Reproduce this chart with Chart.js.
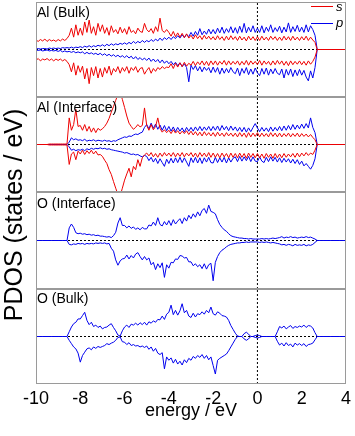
<!DOCTYPE html>
<html><head><meta charset="utf-8">
<script src="https://cdn.jsdelivr.net/npm/chart.js@4.4.1/dist/chart.umd.min.js"></script>
<style>
html,body{margin:0;padding:0;background:#fff;}
#wrap{position:relative;width:355px;height:436px;overflow:hidden;font-family:"Liberation Sans",Arial,sans-serif;color:#000;}
canvas{position:absolute;left:0;}
.lbl{position:absolute;left:37px;font-size:14px;line-height:14px;white-space:nowrap;}
#ytitle{position:absolute;left:13px;top:215px;transform:translate(-50%,-50%) rotate(-90deg);font-size:25px;line-height:25px;white-space:nowrap;}
.legline{position:absolute;left:311px;width:22px;height:0;}
.legtxt{position:absolute;left:336px;font-size:13px;line-height:13px;font-style:italic;}
</style></head><body>
<div id="wrap">
<canvas id="c0"></canvas><canvas id="c1"></canvas><canvas id="c2"></canvas><canvas id="c3"></canvas>
<div class="lbl" id="l0" style="top:5px"></div>
<div class="lbl" id="l1" style="top:100px"></div>
<div class="lbl" id="l2" style="top:196px"></div>
<div class="lbl" id="l3" style="top:291px"></div>
<div id="ytitle"></div>
<div class="legline" style="top:6px;border-top:1px solid #ee0000"></div><div class="legtxt" id="lg0" style="top:0px"></div>
<div class="legline" style="top:23px;border-top:1px solid #0000ee"></div><div class="legtxt" id="lg1" style="top:16px"></div>
</div>
<script>
const energy = [
-10,-9.9,-9.8,-9.7,-9.6,-9.5,-9.4,-9.3,-9.2,-9.1,
-9,-8.9,-8.8,-8.7,-8.6,-8.5,-8.4,-8.3,-8.2,-8.1,
-8,-7.9,-7.8,-7.7,-7.6,-7.5,-7.4,-7.3,-7.2,-7.1,
-7,-6.9,-6.8,-6.7,-6.6,-6.5,-6.4,-6.3,-6.2,-6.1,
-6,-5.9,-5.8,-5.7,-5.6,-5.5,-5.4,-5.3,-5.2,-5.1,
-5,-4.9,-4.8,-4.7,-4.6,-4.5,-4.4,-4.3,-4.2,-4.1,
-4,-3.9,-3.8,-3.7,-3.6,-3.5,-3.4,-3.3,-3.2,-3.1,
-3,-2.9,-2.8,-2.7,-2.6,-2.5,-2.4,-2.3,-2.2,-2.1,
-2,-1.9,-1.8,-1.7,-1.6,-1.5,-1.4,-1.3,-1.2,-1.1,
-1,-0.9,-0.8,-0.7,-0.6,-0.5,-0.4,-0.3,-0.2,-0.1,
0,0.1,0.2,0.3,0.4,0.5,0.6,0.7,0.8,0.9,
1,1.1,1.2,1.3,1.4,1.5,1.6,1.7,1.8,1.9,
2,2.1,2.2,2.3,2.4,2.5,2.6,2.7,2.8,2.9,
3,3.1,3.2,3.3,3.4,3.5,3.6,3.7,3.8,3.9,
4];

// Al (Bulk)
const alBulkSUp = [
0.20,0.17,0.21,0.18,0.22,0.17,0.21,0.18,0.20,0.17,
0.21,0.18,0.22,0.19,0.23,0.30,0.45,0.26,0.52,0.30,
0.45,0.30,0.58,0.36,0.62,0.34,0.48,0.30,0.55,0.38,
0.52,0.34,0.46,0.30,0.50,0.36,0.42,0.33,0.47,0.35,
0.44,0.32,0.48,0.36,0.40,0.33,0.45,0.38,0.36,0.55,
0.42,0.37,0.44,0.34,0.48,0.38,0.66,0.40,0.36,0.42,
0.36,0.28,0.38,0.27,0.35,0.26,0.34,0.25,0.33,0.24,
0.30,0.22,0.31,0.23,0.29,0.21,0.30,0.22,0.28,0.21,
0.27,0.20,0.29,0.21,0.27,0.19,0.28,0.20,0.29,0.21,
0.27,0.19,0.28,0.20,0.26,0.18,0.28,0.20,0.27,0.19,
0.27,0.19,0.28,0.20,0.26,0.19,0.28,0.21,0.27,0.19,
0.26,0.19,0.28,0.20,0.27,0.19,0.28,0.20,0.26,0.19,
0.27,0.20,0.28,0.19,0.26,0.20,0.15,0,0,0,
0,0,0,0,0,0,0,0,0,0,
0];
const alBulkSDown = [
-0.23,-0.19,-0.24,-0.20,-0.22,-0.19,-0.23,-0.20,-0.24,-0.20,
-0.23,-0.20,-0.24,-0.21,-0.25,-0.32,-0.47,-0.28,-0.54,-0.34,
-0.48,-0.35,-0.62,-0.40,-0.72,-0.38,-0.55,-0.36,-0.60,-0.40,
-0.58,-0.38,-0.50,-0.35,-0.54,-0.40,-0.47,-0.36,-0.50,-0.38,
-0.46,-0.36,-0.50,-0.38,-0.44,-0.36,-0.48,-0.40,-0.38,-0.52,
-0.44,-0.38,-0.50,-0.40,-0.46,-0.38,-0.42,-0.36,-0.40,-0.37,
-0.38,-0.30,-0.40,-0.29,-0.37,-0.28,-0.36,-0.27,-0.35,-0.29,
-0.33,-0.25,-0.34,-0.26,-0.32,-0.24,-0.33,-0.25,-0.34,-0.24,
-0.32,-0.24,-0.33,-0.25,-0.31,-0.23,-0.33,-0.24,-0.32,-0.25,
-0.31,-0.24,-0.33,-0.25,-0.32,-0.23,-0.33,-0.24,-0.31,-0.25,
-0.32,-0.23,-0.33,-0.24,-0.31,-0.25,-0.33,-0.24,-0.32,-0.23,
-0.31,-0.24,-0.33,-0.25,-0.34,-0.24,-0.32,-0.25,-0.31,-0.24,
-0.32,-0.25,-0.33,-0.24,-0.31,-0.25,-0.16,0,0,0,
0,0,0,0,0,0,0,0,0,0,
0];
const alBulkPUp = [
0.01,0.02,0.01,0.02,0.02,0.01,0.03,0.02,0.03,0.02,
0.03,0.02,0.04,0.03,0.04,0.03,0.05,0.03,0.05,0.04,
0.06,0.04,0.07,0.05,0.08,0.05,0.08,0.06,0.09,0.07,
0.10,0.07,0.11,0.08,0.12,0.09,0.12,0.10,0.13,0.11,
0.14,0.11,0.15,0.12,0.17,0.13,0.17,0.14,0.19,0.15,
0.19,0.16,0.21,0.17,0.22,0.18,0.24,0.19,0.25,0.21,
0.26,0.21,0.27,0.23,0.29,0.24,0.31,0.25,0.32,0.27,
0.36,0.28,0.38,0.30,0.44,0.31,0.39,0.32,0.43,0.33,
0.42,0.33,0.45,0.35,0.47,0.34,0.44,0.36,0.48,0.35,
0.46,0.34,0.49,0.36,0.55,0.35,0.47,0.37,0.50,0.36,
0.45,0.36,0.50,0.35,0.47,0.38,0.52,0.36,0.46,0.38,
0.49,0.35,0.47,0.37,0.56,0.36,0.48,0.38,0.51,0.37,
0.47,0.36,0.52,0.37,0.50,0.42,0.30,0,0,0,
0,0,0,0,0,0,0,0,0,0,
0];
const alBulkPDown = [
-0.01,-0.02,-0.01,-0.03,-0.02,-0.01,-0.03,-0.02,-0.03,-0.02,
-0.04,-0.02,-0.05,-0.03,-0.05,-0.04,-0.06,-0.04,-0.07,-0.05,
-0.07,-0.05,-0.09,-0.06,-0.09,-0.07,-0.10,-0.08,-0.11,-0.08,
-0.12,-0.09,-0.13,-0.10,-0.14,-0.11,-0.15,-0.12,-0.16,-0.13,
-0.17,-0.13,-0.18,-0.14,-0.20,-0.15,-0.21,-0.17,-0.22,-0.18,
-0.23,-0.18,-0.25,-0.20,-0.26,-0.21,-0.28,-0.22,-0.29,-0.24,
-0.30,-0.25,-0.32,-0.27,-0.34,-0.28,-0.36,-0.30,-0.38,-0.68,
-0.33,-0.42,-0.34,-0.45,-0.36,-0.47,-0.37,-0.44,-0.38,-0.49,
-0.37,-0.48,-0.38,-0.52,-0.39,-0.50,-0.40,-0.49,-0.38,-0.47,
-0.51,-0.39,-0.55,-0.40,-0.50,-0.38,-0.53,-0.41,-0.52,-0.39,
-0.49,-0.55,-0.40,-0.52,-0.39,-0.54,-0.41,-0.51,-0.40,-0.50,
-0.53,-0.41,-0.60,-0.42,-0.54,-0.41,-0.57,-0.43,-0.55,-0.42,
-0.54,-0.44,-0.58,-0.66,-0.45,-0.60,-0.38,0,0,0,
0,0,0,0,0,0,0,0,0,0,
0];

// Al (Interface)
const alIntSUp = [
0,0,0,0,0,0,0.01,0.01,0.01,0.01,
0.01,0.01,0.01,0.01,0.01,0.56,0.30,0.42,0.74,0.38,
0.40,0.30,0.42,0.28,0.38,0.26,0.35,0.25,0.34,0.30,
0.33,0.38,0.45,0.55,0.68,0.80,0.93,1.05,1.10,0.95,
0.78,0.60,0.45,0.38,0.32,0.36,0.42,0.37,0.40,0.77,
0.40,0.30,0.42,0.31,0.38,0.56,0.34,0.26,0.31,0.25,
0.30,0.23,0.31,0.24,0.29,0.22,0.28,0.23,0.29,0.21,
0.28,0.20,0.27,0.19,0.26,0.18,0.27,0.19,0.25,0.18,
0.25,0.17,0.26,0.18,0.24,0.17,0.25,0.18,0.24,0.17,
0.24,0.16,0.25,0.17,0.24,0.15,0.25,0.16,0.24,0.17,
0.25,0.16,0.24,0.17,0.23,0.16,0.25,0.17,0.24,0.16,
0.24,0.16,0.23,0.17,0.24,0.16,0.23,0.17,0.24,0.16,
0.23,0.17,0.22,0.16,0.21,0.15,0.10,0,0,0,
0,0,0,0,0,0,0,0,0,0,
0];
const alIntSDown = [
0,0,0,0,0,0,-0.01,-0.01,-0.01,-0.01,
-0.01,-0.01,-0.01,-0.01,-0.01,-0.42,-0.20,-0.16,-0.32,-0.14,
-0.20,-0.12,-0.21,-0.13,-0.19,-0.12,-0.20,-0.14,-0.22,-0.21,
-0.25,-0.33,-0.40,-0.53,-0.63,-0.78,-0.92,-1.05,-1.08,-0.92,
-0.75,-0.62,-0.50,-0.68,-0.46,-0.53,-0.32,-0.46,-0.28,-0.22,
-0.18,-0.24,-0.17,-0.26,-0.19,-0.27,-0.18,-0.25,-0.17,-0.24,
-0.18,-0.25,-0.17,-0.26,-0.18,-0.25,-0.17,-0.26,-0.18,-0.24,
-0.17,-0.26,-0.18,-0.27,-0.17,-0.25,-0.18,-0.26,-0.17,-0.27,
-0.18,-0.27,-0.19,-0.28,-0.18,-0.26,-0.19,-0.28,-0.18,-0.27,
-0.19,-0.28,-0.18,-0.27,-0.19,-0.29,-0.18,-0.27,-0.19,-0.28,
-0.19,-0.28,-0.20,-0.29,-0.19,-0.27,-0.20,-0.29,-0.19,-0.28,
-0.20,-0.28,-0.19,-0.27,-0.20,-0.26,-0.19,-0.27,-0.18,-0.26,
-0.18,-0.24,-0.17,-0.23,-0.18,-0.21,-0.12,0,0,0,
0,0,0,0,0,0,0,0,0,0,
0];
const alIntPUp = [
0,0,0,0,0,0,0,0,0,0,
0,0,0,0,0,0.05,0.14,0.10,0.12,0.09,
0.10,0.08,0.11,0.07,0.09,0.08,0.10,0.07,0.09,0.08,
0.07,0.09,0.07,0.08,0.06,0.08,0.07,0.10,0.12,0.14,
0.16,0.15,0.18,0.17,0.20,0.22,0.21,0.24,0.26,0.36,
0.42,0.33,0.45,0.34,0.43,0.32,0.41,0.30,0.40,0.29,
0.38,0.28,0.37,0.27,0.36,0.28,0.35,0.26,0.36,0.28,
0.36,0.28,0.37,0.29,0.38,0.29,0.37,0.30,0.38,0.29,
0.38,0.30,0.39,0.29,0.40,0.31,0.38,0.29,0.39,0.30,
0.37,0.28,0.36,0.27,0.36,0.26,0.35,0.27,0.36,0.44,
0.35,0.27,0.36,0.28,0.35,0.27,0.37,0.28,0.36,0.29,
0.38,0.29,0.39,0.30,0.40,0.31,0.42,0.32,0.41,0.33,
0.43,0.34,0.44,0.35,0.56,0.36,0.25,0,0,0,
0,0,0,0,0,0,0,0,0,0,
0];
const alIntPDown = [
0,0,0,0,0,0,0,0,0,0,
0,0,0,0,0,-0.05,-0.12,-0.10,-0.13,-0.11,
-0.12,-0.10,-0.13,-0.09,-0.11,-0.08,-0.10,-0.08,-0.09,-0.07,
-0.09,-0.08,-0.10,-0.09,-0.11,-0.12,-0.13,-0.14,-0.15,-0.16,
-0.18,-0.17,-0.19,-0.21,-0.20,-0.22,-0.21,-0.24,-0.26,-0.23,
-0.25,-0.34,-0.27,-0.37,-0.29,-0.40,-0.30,-0.38,-0.46,-0.31,
-0.40,-0.29,-0.39,-0.28,-0.38,-0.27,-0.38,-0.28,-0.37,-0.46,
-0.28,-0.38,-0.27,-0.39,-0.28,-0.40,-0.28,-0.37,-0.27,-0.38,
-0.39,-0.27,-0.38,-0.28,-0.37,-0.27,-0.39,-0.28,-0.37,-0.29,
-0.26,-0.36,-0.25,-0.35,-0.26,-0.34,-0.25,-0.36,-0.26,-0.35,
-0.36,-0.26,-0.35,-0.38,-0.27,-0.36,-0.26,-0.35,-0.27,-0.37,
-0.28,-0.38,-0.29,-0.37,-0.30,-0.39,-0.31,-0.40,-0.32,-0.42,
-0.35,-0.45,-0.40,-0.46,-0.52,-0.44,-0.30,0,0,0,
0,0,0,0,0,0,0,0,0,0,
0];

// O (Interface)
const oIntPUp = [
0,0,0,0,0,0,0,0,0,0,
0,0,0,0,0,0.26,0.34,0.27,0.16,0.14,
0.15,0.13,0.14,0.12,0.13,0.11,0.12,0.10,0.11,0.09,
0.09,0.08,0.07,0.08,0.06,0.10,0.17,0.36,0.47,0.31,
0.31,0.26,0.30,0.25,0.28,0.23,0.26,0.22,0.27,0.24,
0.24,0.32,0.30,0.38,0.31,0.47,0.33,0.30,0.39,0.32,
0.41,0.31,0.43,0.34,0.40,0.45,0.35,0.47,0.40,0.52,
0.45,0.55,0.48,0.59,0.51,0.62,0.66,0.56,0.73,0.60,
0.58,0.55,0.43,0.33,0.27,0.22,0.19,0.14,0.10,0.08,
0.07,0.06,0.05,0.05,0.04,0.04,0.03,0.04,0.03,0.03,
0.03,0.03,0.04,0.03,0.04,0.03,0.04,0.05,0.04,0.05,
0.06,0.08,0.05,0.07,0.06,0.08,0.06,0.07,0.05,0.06,
0.07,0.06,0.08,0.06,0.07,0.05,0.03,0,0,0,
0,0,0,0,0,0,0,0,0,0,
0];
const oIntPDown = [
0,0,0,0,0,0,0,0,0,0,
0,0,0,0,0,-0.08,-0.09,-0.07,-0.08,-0.06,
-0.07,-0.06,-0.08,-0.06,-0.07,-0.06,-0.07,-0.05,-0.06,-0.05,
-0.06,-0.05,-0.07,-0.06,-0.16,-0.22,-0.40,-0.51,-0.42,-0.38,
-0.37,-0.30,-0.38,-0.31,-0.36,-0.28,-0.25,-0.33,-0.40,-0.33,
-0.40,-0.36,-0.50,-0.45,-0.60,-0.48,-0.56,-0.46,-0.76,-0.50,
-0.57,-0.45,-0.46,-0.38,-0.39,-0.31,-0.32,-0.36,-0.35,-0.44,
-0.44,-0.52,-0.48,-0.54,-0.50,-0.58,-0.48,-0.59,-0.50,-0.47,
-0.83,-0.45,-0.33,-0.25,-0.20,-0.17,-0.13,-0.10,-0.08,-0.07,
-0.06,-0.05,-0.05,-0.04,-0.04,-0.03,-0.04,-0.03,-0.03,-0.03,
-0.03,-0.04,-0.03,-0.04,-0.03,-0.04,-0.05,-0.04,-0.05,-0.06,
-0.07,-0.09,-0.08,-0.10,-0.08,-0.09,-0.11,-0.08,-0.10,-0.09,
-0.10,-0.08,-0.11,-0.09,-0.10,-0.08,-0.04,0,0,0,
0,0,0,0,0,0,0,0,0,0,
0];

// O (Bulk)
const oBulkPUp = [
0,0,0,0,0,0,0,0,0,0,
0,0,0,0,0,0.10,0.20,0.27,0.30,0.37,
0.37,0.44,0.51,0.34,0.25,0.30,0.21,0.24,0.19,0.22,
0.16,0.19,0.20,0.24,0.27,0.19,0.12,0.03,0.01,0.12,
0.20,0.24,0.19,0.26,0.24,0.28,0.24,0.29,0.25,0.30,
0.24,0.31,0.28,0.33,0.30,0.36,0.35,0.43,0.36,0.47,
0.51,0.66,0.46,0.55,0.45,0.54,0.69,0.50,0.55,0.43,
0.40,0.49,0.41,0.48,0.46,0.52,0.47,0.55,0.50,0.62,
0.48,0.45,0.52,0.49,0.44,0.43,0.41,0.34,0.23,0.15,
0.07,0.01,0,0,0.06,0.09,0.05,0,0,0.02,
0.03,0.02,0,0,0,0,0,0,0,0.10,
0.21,0.18,0.22,0.16,0.20,0.23,0.17,0.21,0.19,0.22,
0.20,0.24,0.19,0.23,0.22,0.18,0.08,0,0,0,
0,0,0,0,0,0,0,0,0,0,
0];
const oBulkPDown = [
0,0,0,0,0,0,0,0,0,0,
0,0,0,0,0,-0.08,-0.15,-0.22,-0.26,-0.35,
-0.54,-0.40,-0.33,-0.26,-0.24,-0.28,-0.22,-0.25,-0.21,-0.23,
-0.21,-0.19,-0.15,-0.17,-0.14,-0.12,-0.08,-0.02,-0.01,-0.11,
-0.12,-0.17,-0.13,-0.19,-0.17,-0.20,-0.19,-0.22,-0.20,-0.23,
-0.20,-0.27,-0.22,-0.31,-0.25,-0.35,-0.38,-0.34,-0.68,-0.43,
-0.50,-0.45,-0.56,-0.48,-0.58,-0.52,-0.60,-0.49,-0.55,-0.46,
-0.50,-0.42,-0.46,-0.40,-0.44,-0.38,-0.46,-0.40,-0.49,-0.43,
-0.61,-0.79,-0.50,-0.46,-0.43,-0.40,-0.37,-0.30,-0.22,-0.14,
-0.06,0,0,0,-0.05,-0.08,-0.05,0,0,-0.02,
-0.03,-0.02,0,0,0,0,0,0,0,-0.10,
-0.18,-0.14,-0.20,-0.13,-0.19,-0.16,-0.22,-0.14,-0.18,-0.15,
-0.19,-0.15,-0.21,-0.17,-0.16,-0.14,-0.07,0,0,0,
0,0,0,0,0,0,0,0,0,0,
0];

const xTicks = [-10,-8,-6,-4,-2,0,2,4];
const panelLabels = ['Al (Bulk)','Al (Interface)','O (Interface)','O (Bulk)'];
const seriesNames = ['s','p'];
const xTitle = 'energy / eV';
const yTitle = 'PDOS (states / eV)';
const fermiEnergy = 0;
const zeroLevel = 0;

const RED = '#ee0000', BLUE = '#0000ee';
const FONT = '"Liberation Sans", Arial, sans-serif';

document.getElementById('ytitle').textContent = yTitle;
panelLabels.forEach((t,i)=>document.getElementById('l'+i).textContent=t);
document.getElementById('lg0').textContent = seriesNames[0];
document.getElementById('lg1').textContent = seriesNames[1];

const pts = arr => arr.map((v,i)=>({x:energy[i], y:v}));
const line = (arr,color)=>({data:pts(arr),borderColor:color,borderWidth:1,pointRadius:0,tension:0,fill:false});

const framePlugin = {id:'frame', afterDatasetsDraw(chart){
  const {ctx, chartArea:a} = chart;
  ctx.save(); ctx.strokeStyle='#9a9a9a'; ctx.lineWidth=1;
  ctx.strokeRect(Math.round(a.left)+0.5, Math.round(a.top)+0.5, Math.round(a.right-a.left)-1, Math.round(a.bottom-a.top)-1);
  ctx.restore();
}};

const panels = [
  {top:2,  h:95, s:[alBulkSUp, alBulkSDown], p:[alBulkPUp, alBulkPDown]},
  {top:97, h:95, s:[alIntSUp, alIntSDown],   p:[alIntPUp, alIntPDown]},
  {top:192,h:97, s:[],                        p:[oIntPUp, oIntPDown]},
  {top:289,h:95, s:[],                        p:[oBulkPUp, oBulkPDown]}
];

panels.forEach((pn, idx)=>{
  const showX = idx === 3;
  const axisH = showX ? 38 : 0;
  const cv = document.getElementById('c'+idx);
  cv.width = 355; cv.height = pn.h + axisH;
  cv.style.width='355px'; cv.style.height=(pn.h+axisH)+'px'; cv.style.top = pn.top+'px';
  const ds = [];
  pn.s.forEach(a=>ds.push(line(a,RED)));
  pn.p.forEach(a=>ds.push(line(a,BLUE)));
  ds.push({data:[{x:energy[0],y:zeroLevel},{x:energy[energy.length-1],y:zeroLevel}],borderColor:'#000',borderWidth:1,borderDash:[2,2],pointRadius:0});
  ds.push({data:[{x:fermiEnergy,y:-1},{x:fermiEnergy,y:1}],borderColor:'#000',borderWidth:1,borderDash:[2,2],pointRadius:0});
  new Chart(cv, {
    type:'line',
    data:{datasets:ds},
    options:{
      responsive:false, animation:false, events:[],
      layout:{padding:{left:36,right:9,top:0,bottom:0}},
      plugins:{legend:{display:false},tooltip:{enabled:false}},
      scales:{
        x:{type:'linear',min:-10,max:4,display:showX,
           grid:{display:false,drawTicks:false},border:{display:false},
           afterBuildTicks(s){ s.ticks = xTicks.map(v=>({value:v})); },
           afterFit(s){ if(showX) s.height = axisH; },
           ticks:{color:'#000',font:{family:FONT,size:18},padding:4,maxRotation:0,autoSkip:false},
           title:{display:true,text:xTitle,color:'#000',font:{family:FONT,size:18},padding:{top:0,bottom:0}}},
        y:{min:-1,max:1,display:false}
      }
    },
    plugins:[framePlugin]
  });
});
</script>
</body></html>
